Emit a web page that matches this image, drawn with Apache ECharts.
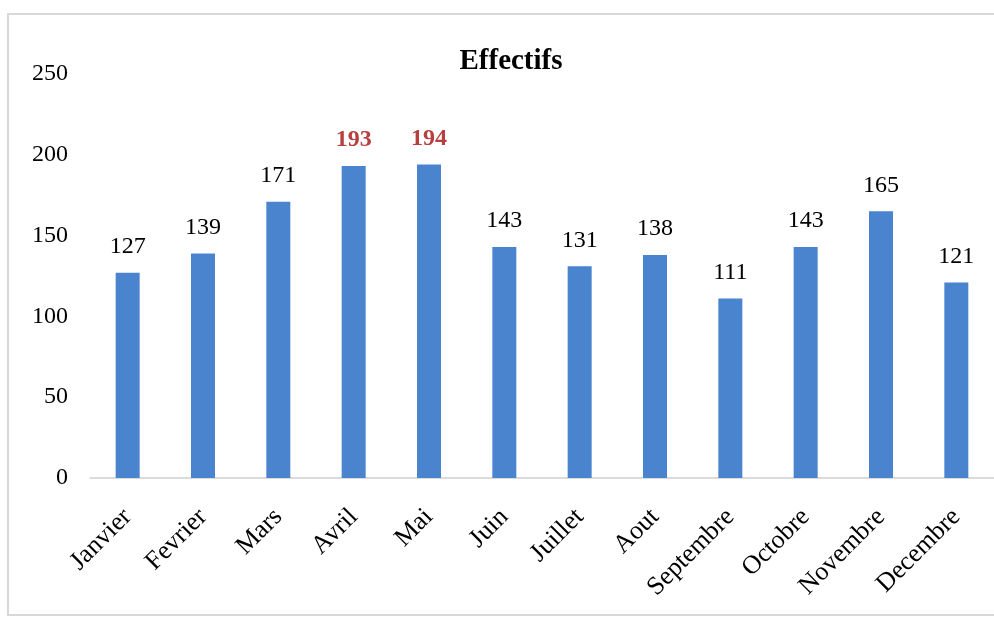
<!DOCTYPE html>
<html><head><meta charset="utf-8">
<script src="https://cdn.jsdelivr.net/npm/echarts@6/dist/echarts.min.js"></script>
<style>html,body{margin:0;padding:0;background:#fff}#c{width:994px;height:619px}</style>
</head><body><div id="c"></div>
<script>
const categories = ['Janvier','Fevrier','Mars','Avril','Mai','Juin','Juillet','Aout','Septembre','Octobre','Novembre','Decembre'];
const values = [127,139,171,193,194,143,131,138,111,143,165,121];
const highlighted = ['Avril','Mai'];
const yTicks = {min:0, max:250, interval:50};

const chart = echarts.init(document.getElementById('c'));
const serif = '"Liberation Serif","DejaVu Serif",serif';
chart.setOption({
  backgroundColor:'#fff',
  animation:false,
  title:{text:'Effectifs', left:506, top:42, textAlign:'center',
    textStyle:{fontFamily:serif, fontWeight:'bold', fontSize:29, color:'#000'}},
  graphic:[{type:'rect', shape:{x:8,y:14,width:1000,height:601}, style:{fill:'none', stroke:'#d8d8d8', lineWidth:2}, silent:true}],
  grid:{left:90, top:74, width:907, bottom:141},
  xAxis:{type:'category', data:categories,
    axisLine:{show:true, lineStyle:{color:'#cfcfcf', width:1.5}},
    axisTick:{show:false},
    axisLabel:{rotate:45, interval:0, margin:35, fontFamily:serif, fontSize:26, color:'#000'}},
  yAxis:{type:'value', min:yTicks.min, max:yTicks.max, interval:yTicks.interval,
    axisLine:{show:false}, axisTick:{show:false}, splitLine:{show:false},
    axisLabel:{margin:22, fontFamily:serif, fontSize:24, color:'#000', padding:[8,0,0,0]}},
  series:[{type:'bar', barWidth:24,
    data: values.map((v,i)=>{
      const hi = highlighted.includes(categories[i]);
      return {value:v, label:{color: hi ? '#b5403f' : '#000', fontWeight: hi ? 'bold' : 'normal'}};
    }),
    itemStyle:{color:'#4a84cf'},
    label:{show:true, position:'top', distance:14, fontFamily:serif, fontSize:24}
  }]
});
</script></body></html>
